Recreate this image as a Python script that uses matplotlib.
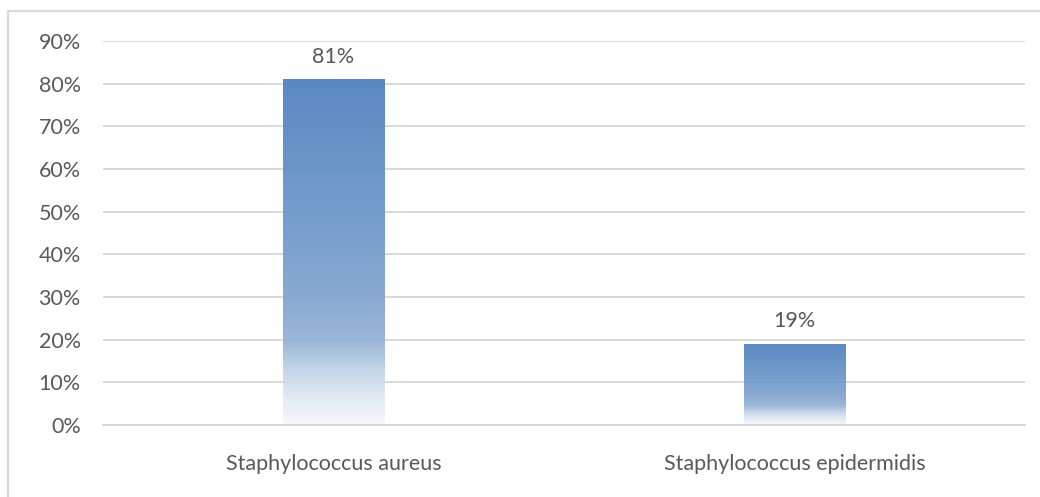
import numpy as np
import matplotlib
matplotlib.use("Agg")
import matplotlib.pyplot as plt
from matplotlib.colors import LinearSegmentedColormap
from matplotlib.ticker import PercentFormatter

# Data
categories = ["Staphylococcus aureus", "Staphylococcus epidermidis"]
shares = [0.81, 0.19]
value_labels = ["81%", "19%"]

plt.rcParams["font.family"] = ["Lato", "DejaVu Sans"]
text_color = "#595959"
grid_color = "#d9d9d9"
fs = 15.5

fig = plt.figure(figsize=(10.40, 4.97), dpi=100)
ax = fig.add_axes([103 / 1040, 1 - 425 / 497, 922 / 1040, (425 - 41) / 497])

# Vertical gradient for the bar fill (top -> bottom)
stops = [
    (0.00, (79, 129, 189)),
    (0.35, (104, 149, 200)),
    (0.62, (128, 163, 207)),
    (0.76, (148, 178, 214)),
    (0.84, (192, 210, 231)),
    (0.92, (225, 233, 243)),
    (1.00, (246, 248, 252)),
]
grad_cmap = LinearSegmentedColormap.from_list(
    "bar_fill", [(p, tuple(v / 255 for v in c)) for p, c in stops]
)

x = np.arange(len(categories))
bar_w = 0.22
bars = ax.bar(x, shares, width=bar_w, color="none", edgecolor="none", zorder=2)

grad = np.linspace(0, 1, 256).reshape(-1, 1)
for rect in bars:
    x0 = rect.get_x()
    x1 = x0 + rect.get_width()
    h = rect.get_height()
    im = ax.imshow(grad, cmap=grad_cmap, aspect="auto",
                   extent=(x0, x1, 0, h), origin="upper",
                   zorder=2, alpha=0.94, interpolation="bilinear")
    im.set_clip_path(rect)

for xi, v, lab in zip(x, shares, value_labels):
    ax.annotate(lab, (xi, v), xytext=(0, 9), textcoords="offset points",
                ha="center", va="bottom", fontsize=fs, color=text_color)

ax.set_xlim(-0.5, len(categories) - 0.5)
ax.set_ylim(0, 0.9)
ax.set_yticks(np.arange(0, 0.91, 0.1))
ax.yaxis.set_major_formatter(PercentFormatter(1.0, decimals=0))
ax.set_xticks(x)
ax.set_xticklabels(categories)

ax.grid(axis="y", color=grid_color, linewidth=1.4, zorder=0)
ax.set_axisbelow(True)
for side in ["top", "right", "left"]:
    ax.spines[side].set_visible(False)
ax.spines["bottom"].set_color(grid_color)
ax.spines["bottom"].set_linewidth(1.4)

ax.tick_params(axis="y", length=0, pad=16, labelsize=fs, labelcolor=text_color)
ax.tick_params(axis="x", length=0, pad=21, labelsize=fs, labelcolor=text_color)

# Chart frame (top and left edges)
fig.add_artist(plt.Line2D([8 / 1040, 8 / 1040], [0, 1 - 11 / 497],
                          transform=fig.transFigure, color=grid_color, linewidth=1.5))
fig.add_artist(plt.Line2D([8 / 1040, 1], [1 - 11 / 497, 1 - 11 / 497],
                          transform=fig.transFigure, color=grid_color, linewidth=1.5))

fig.savefig("out.png", dpi=100, facecolor="white")
